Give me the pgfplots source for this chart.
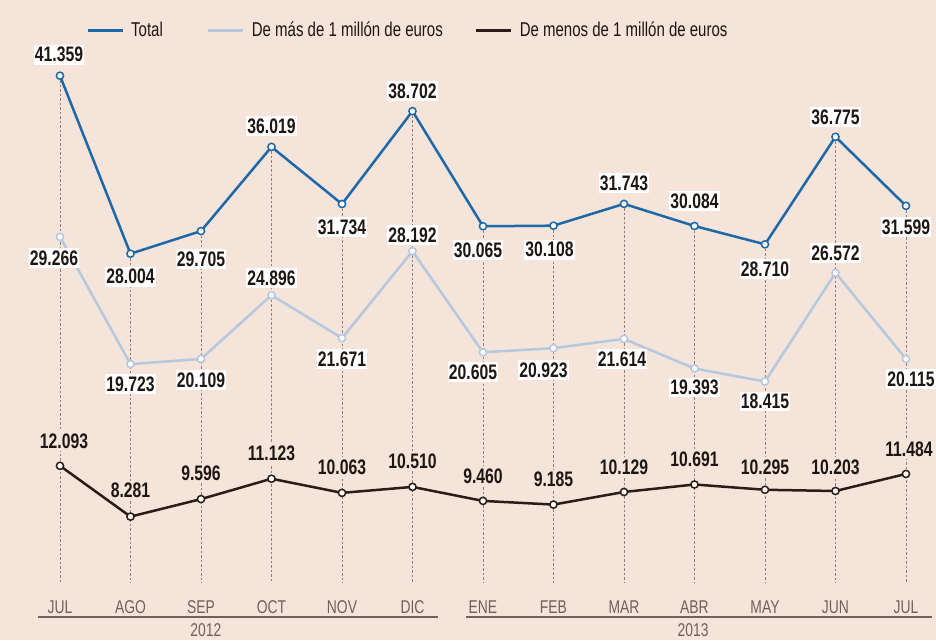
\documentclass[border=0pt]{standalone}
\usepackage{fontspec}
\setmainfont{Liberation Sans}[FakeStretch=0.75]
\usepackage{pgfplots}
\pgfplotsset{compat=1.18}
\usepackage{pgfplotstable}
\definecolor{bg}{HTML}{F5E4DA}
\definecolor{ctotal}{HTML}{1D68A6}
\definecolor{cmas}{HTML}{B5C8DD}
\definecolor{cmenos}{HTML}{2A1C16}
\definecolor{gridc}{HTML}{8C817A}
\definecolor{axisc}{HTML}{6F625A}
\definecolor{txt}{HTML}{1E1612}

\pgfplotstableread{
x total tty ttx mas mty mtx menos nty ntx
0 41.359 21 -1 29.266 -21 -6 12.093 25 4
1 28.004 -23 0 19.723 -20 0 8.281 26 0
2 29.705 -28 0 20.109 -21 0 9.596 26 0
3 36.019 21 0 24.896 17 0 11.123 25 0
4 31.734 -23 0 21.671 -21 0 10.063 26 0
5 38.702 20 0 28.192 16 0 10.510 26 0
6 30.065 -24 -5 20.605 -20 -10 9.460 25 0
7 30.108 -24 -4 20.923 -22 -10 9.185 25 0
8 31.743 21 0 21.614 -20 -2 10.129 25 0
9 30.084 25 0 19.393 -19 0 10.691 25 0
10 28.710 -25 0 18.415 -20 0 10.295 23 0
11 36.775 20 0 26.572 20 0 10.203 24 0
12 31.599 -21 0 20.115 -20 5 11.484 25 3
}\data

\begin{document}
\begin{tikzpicture}
\begin{axis}[
  scale only axis, width=936pt, height=640pt,
  xmin=-0.851, xmax=12.426, ymin=-0.975, ymax=47.04,
  clip=false,
  axis background/.style={fill=bg},
  axis line style={draw=none},
  tick style={draw=none},
  ytick=\empty,
  xtick={0,...,12},
  xticklabels={JUL,AGO,SEP,OCT,NOV,DIC,ENE,FEB,MAR,ABR,MAY,JUN,JUL},
  xticklabel style={anchor=center, yshift=33pt, font=\fontsize{18.5}{20}\selectfont, text=axisc},
  /pgf/number format/assume math mode=true,
  /pgf/number format/fixed,
  /pgf/number format/fixed zerofill,
  /pgf/number format/precision=3,
  legend columns=3,
  legend style={at={(rel axis cs:0.0919,0.953)}, anchor=west, draw=none, fill=none,
    font=\fontsize{20}{22}\selectfont, text=txt, inner sep=0pt,
    nodes={inner sep=0pt},
    /tikz/column 1/.style={column sep=7pt},
    /tikz/column 2/.style={column sep=44pt},
    /tikz/column 3/.style={column sep=7pt},
    /tikz/column 4/.style={column sep=32pt},
    /tikz/column 5/.style={column sep=7pt}},
  legend image code/.code={\draw[#1, line width=3pt] (0pt,0pt) -- (35pt,0pt);},
  lbl/.style={
    nodes near coords,
    nodes near coords style={anchor=center, fill=#1, inner xsep=1pt, inner ysep=2.5pt, text=txt,
      font=\fontsize{21}{23}\selectfont\bfseries},
  },
]
% dotted guide lines
\addplot[draw=none, forget plot, error bars/.cd, y dir=minus, y explicit,
  error mark=none, error bar style={gridc, line width=0.9pt, dash pattern=on 2.5pt off 2pt}]
  table[x=x, y=total, y error expr=\thisrow{total}-3.3] {\data};
\coordinate (SW) at (rel axis cs:0,0);
\coordinate (NE) at (rel axis cs:1,1);

\addplot[ctotal, line width=2.5pt, mark=*, mark size=3.6pt,
  mark options={fill=white, draw=ctotal, line width=1.5pt, solid},
  lbl=white, point meta=explicit,
  visualization depends on={\thisrow{tty} \as \ly},
  visualization depends on={\thisrow{ttx} \as \lx},
  nodes near coords style={yshift=\ly pt, xshift=\lx pt}]
  table[x=x, y=total, meta=total] {\data};
\addlegendentry{Total}

\addplot[cmas, line width=2.5pt, mark=*, mark size=3.6pt,
  mark options={fill=white, draw=cmas, line width=1.5pt, solid},
  lbl=white, point meta=explicit,
  visualization depends on={\thisrow{mty} \as \ly},
  visualization depends on={\thisrow{mtx} \as \lx},
  nodes near coords style={yshift=\ly pt, xshift=\lx pt}]
  table[x=x, y=mas, meta=mas] {\data};
\addlegendentry{De más de 1 millón de euros}

\addplot[cmenos, line width=2.5pt, mark=*, mark size=3.6pt,
  mark options={fill=white, draw=cmenos, line width=1.5pt, solid},
  lbl=bg, point meta=explicit,
  visualization depends on={\thisrow{nty} \as \ly},
  visualization depends on={\thisrow{ntx} \as \lx},
  nodes near coords style={yshift=\ly pt, xshift=\lx pt}]
  table[x=x, y=menos, meta=menos] {\data};
\addlegendentry{De menos de 1 millón de euros}

\draw[axisc, line width=2pt] (axis cs:-0.31,0.75) -- (axis cs:5.36,0.75);
\draw[axisc, line width=2pt] (axis cs:5.76,0.75) -- (axis cs:12.37,0.75);
\node[text=axisc, font=\fontsize{18.5}{20}\selectfont] at (axis cs:2.07,-0.2) {2012};
\node[text=axisc, font=\fontsize{18.5}{20}\selectfont] at (axis cs:8.98,-0.2) {2013};
\end{axis}
\pgfresetboundingbox
\path[use as bounding box] (SW) rectangle (NE);
\end{tikzpicture}
\end{document}
